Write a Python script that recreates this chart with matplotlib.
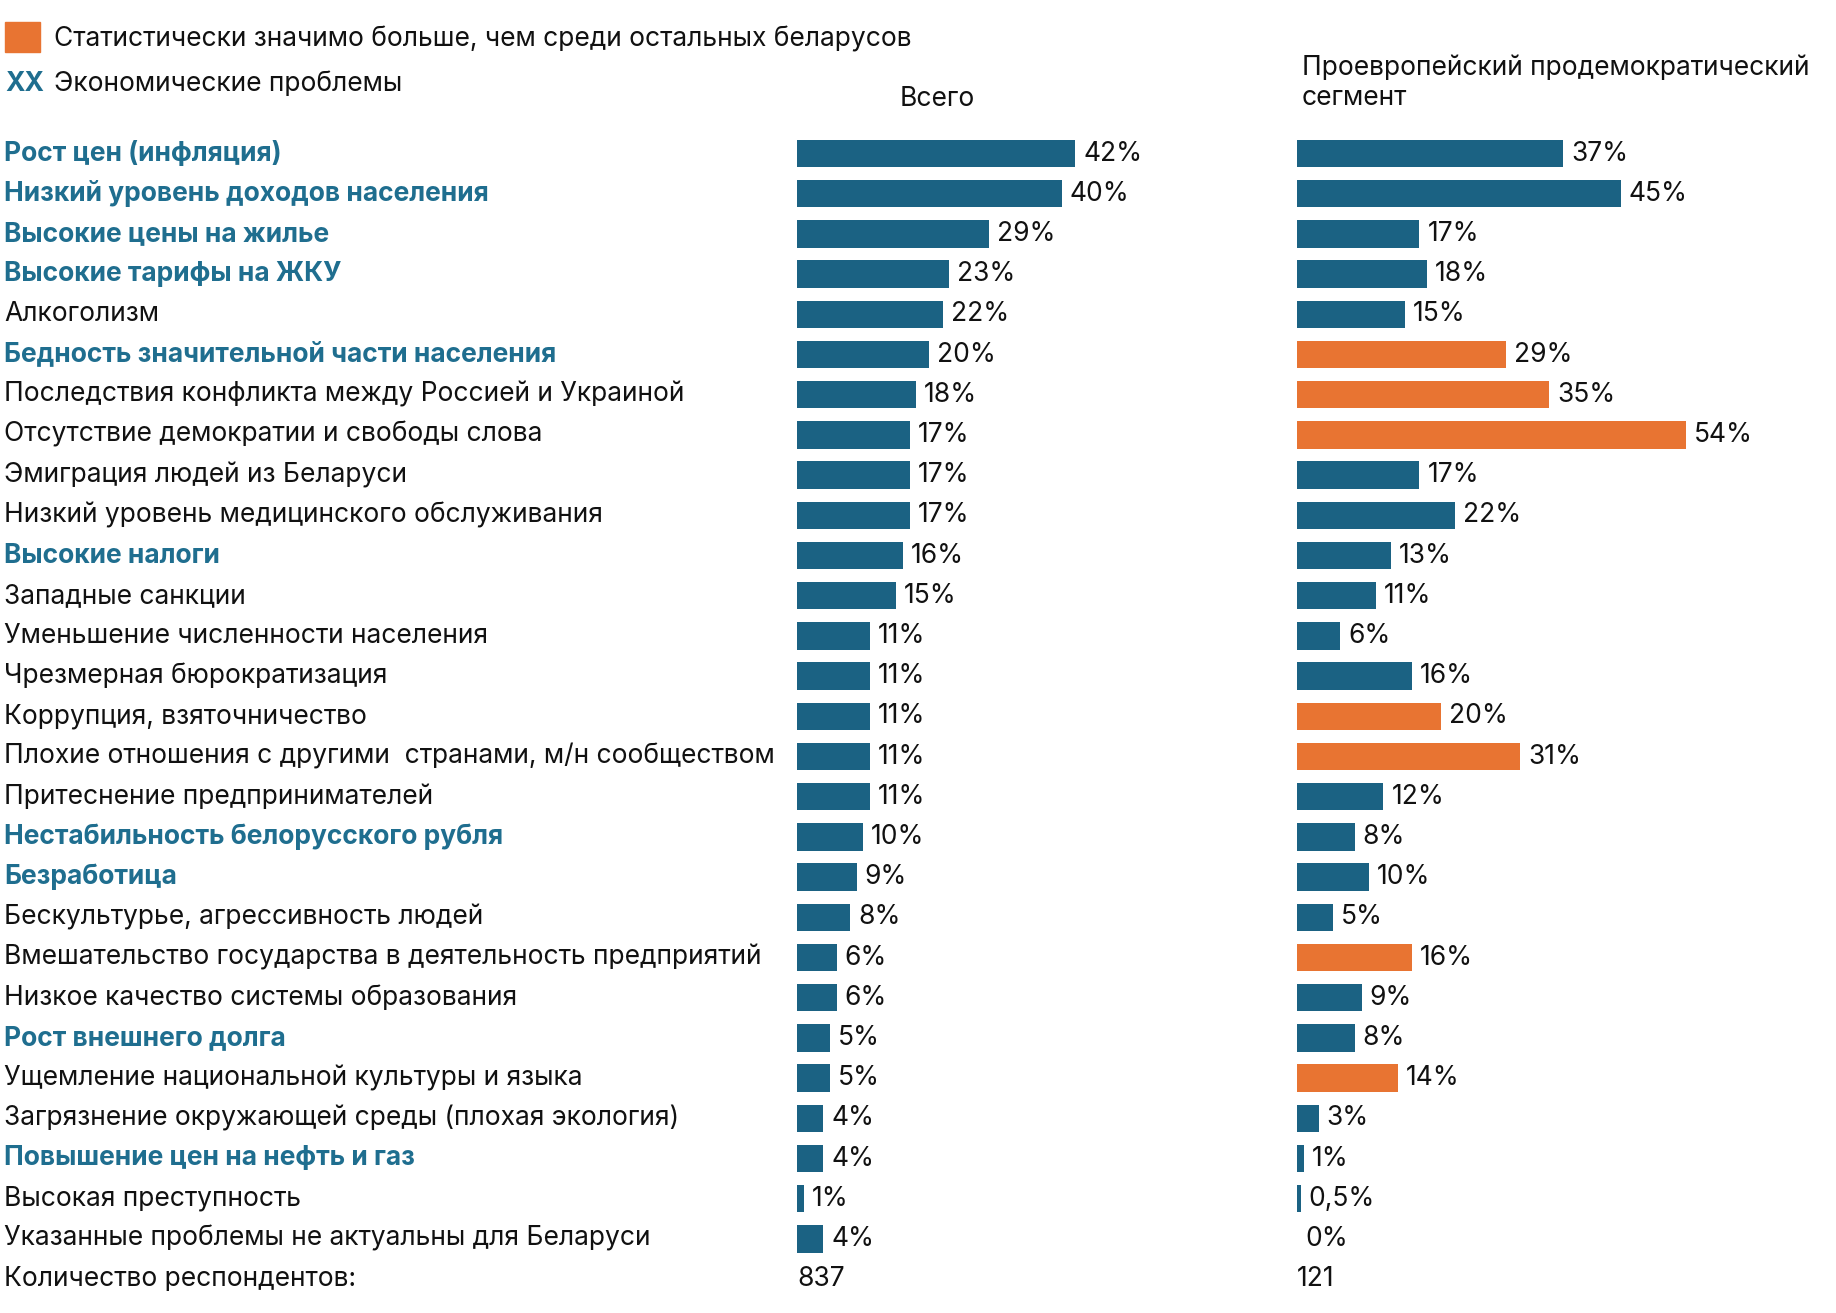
import matplotlib.pyplot as plt
from matplotlib.patches import Rectangle

plt.rcParams["font.family"] = ["Inter", "DejaVu Sans"]

categories = [
    "Рост цен (инфляция)",
    "Низкий уровень доходов населения",
    "Высокие цены на жилье",
    "Высокие тарифы на ЖКУ",
    "Алкоголизм",
    "Бедность значительной части населения",
    "Последствия конфликта между Россией и Украиной",
    "Отсутствие демократии и свободы слова",
    "Эмиграция людей из Беларуси",
    "Низкий уровень медицинского обслуживания",
    "Высокие налоги",
    "Западные санкции",
    "Уменьшение численности населения",
    "Чрезмерная бюрократизация",
    "Коррупция, взяточничество",
    "Плохие отношения с другими  странами, м/н сообществом",
    "Притеснение предпринимателей",
    "Нестабильность белорусского рубля",
    "Безработица",
    "Бескультурье, агрессивность людей",
    "Вмешательство государства в деятельность предприятий",
    "Низкое качество системы образования",
    "Рост внешнего долга",
    "Ущемление национальной культуры и языка",
    "Загрязнение окружающей среды (плохая экология)",
    "Повышение цен на нефть и газ",
    "Высокая преступность",
    "Указанные проблемы не актуальны для Беларуси",
]
economic = [0, 1, 2, 3, 5, 10, 17, 18, 22, 25]

total = [42, 40, 29, 23, 22, 20, 18, 17, 17, 17, 16, 15, 11, 11, 11, 11, 11,
         10, 9, 8, 6, 6, 5, 5, 4, 4, 1, 4]
segment = [37, 45, 17, 18, 15, 29, 35, 54, 17, 22, 13, 11, 6, 16, 20, 31, 12,
           8, 10, 5, 16, 9, 8, 14, 3, 1, 0.5, 0]
significant = [5, 6, 7, 14, 15, 20, 23]

n_total, n_segment = 837, 121

BLUE = "#1b6283"
ORANGE = "#e87432"
TEAL_TEXT = "#1f6e8f"
FS = 19

W, H = 1836, 1313
fig = plt.figure(figsize=(W / 100, H / 100), dpi=100)

row0, step = 153.5, 40.2
n_rows = len(categories) + 1
top_px = row0 - step / 2
bot_px = row0 + step * (n_rows - 0.5)
ax_b = 1 - bot_px / H
ax_h = (bot_px - top_px) / H


def fmt(v):
    s = f"{v:g}".replace(".", ",")
    return s + "%"


def panel(x0_px, px_per_pct, xmax, values, highlight, n_resp):
    ax = fig.add_axes([x0_px / W, ax_b, px_per_pct * xmax / W, ax_h])
    ax.set_xlim(0, xmax)
    ax.set_ylim(n_rows - 0.5, -0.5)
    ax.axis("off")
    colors = [ORANGE if i in highlight else BLUE for i in range(len(values))]
    ax.barh(range(len(values)), values, height=0.68, color=colors)
    pad = 8 / px_per_pct
    for i, v in enumerate(values):
        ax.text(v + pad if v > 0 else pad, i, fmt(v), va="center", ha="left",
                fontsize=FS, color="#111111")
    ax.text(0, len(values), str(n_resp), va="center", ha="left",
            fontsize=FS, color="#111111")
    return ax


ax1 = panel(797, 6.62, 60, total, [], n_total)
ax2 = panel(1297, 7.2, 70, segment, significant, n_segment)

# category labels
for i, cat in enumerate(categories):
    y = 1 - (row0 + step * i) / H
    if i in economic:
        fig.text(4 / W, y, cat, fontsize=FS, fontweight="bold", color=TEAL_TEXT,
                 va="center", ha="left")
    else:
        fig.text(4 / W, y, cat, fontsize=FS, color="#111111", va="center", ha="left")
fig.text(4 / W, 1 - (row0 + step * len(categories)) / H, "Количество респондентов:",
         fontsize=FS, color="#111111", va="center", ha="left")

# legend
fig.patches.append(Rectangle((5 / W, 1 - 52 / H), 35 / W, 30 / H,
                             transform=fig.transFigure, color=ORANGE))
fig.text(54 / W, 1 - 39 / H, "Статистически значимо больше, чем среди остальных беларусов",
         fontsize=FS, color="#111111", va="center", ha="left")
fig.text(5 / W, 1 - 84 / H, "XX", fontsize=FS, fontweight="bold", color=TEAL_TEXT,
         va="center", ha="left")
fig.text(54 / W, 1 - 84 / H, "Экономические проблемы", fontsize=FS, color="#111111",
         va="center", ha="left")

# panel headers
fig.text(937 / W, 1 - 99 / H, "Всего", fontsize=FS, color="#111111",
         va="center", ha="center")
fig.text(1302 / W, 1 - 83 / H, "Проевропейский продемократический\nсегмент",
         fontsize=FS, color="#111111", va="center", ha="left", linespacing=1.2)

fig.savefig("out.png", dpi=100, facecolor="white")
